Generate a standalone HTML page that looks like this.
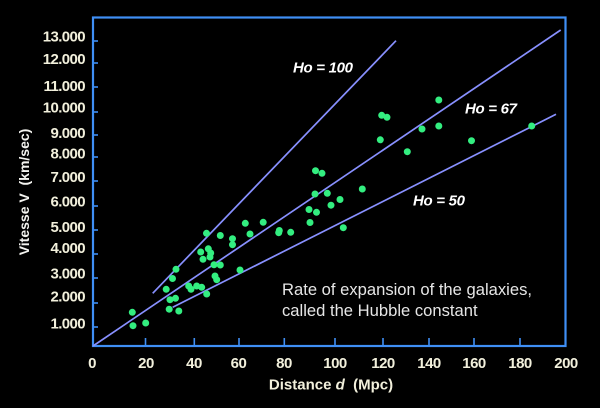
<!DOCTYPE html>
<html>
<head>
<meta charset="utf-8">
<style>
  html,body{margin:0;padding:0;background:#000;}
  svg{display:block;}
  text{font-family:"Liberation Sans",sans-serif;}
</style>
</head>
<body>
<svg width="600" height="408" viewBox="0 0 600 408" xmlns="http://www.w3.org/2000/svg">
  <rect x="0" y="0" width="600" height="408" fill="#000"/>

  <rect x="93" y="17.5" width="472.5" height="328.5" fill="none" stroke="#3f8ff5" stroke-width="2.2"/>

  <g stroke="#3f8ff5" stroke-width="1.6">
    <line x1="93" y1="327" x2="98" y2="327"/>
    <line x1="93" y1="303" x2="98" y2="303"/>
    <line x1="93" y1="278" x2="98" y2="278"/>
    <line x1="93" y1="254" x2="98" y2="254"/>
    <line x1="93" y1="230" x2="98" y2="230"/>
    <line x1="93" y1="206" x2="98" y2="206"/>
    <line x1="93" y1="181" x2="98" y2="181"/>
    <line x1="93" y1="157" x2="98" y2="157"/>
    <line x1="93" y1="135" x2="98" y2="135"/>
    <line x1="93" y1="112" x2="98" y2="112"/>
    <line x1="93" y1="87" x2="98" y2="87"/>
    <line x1="93" y1="63" x2="98" y2="63"/>
    <line x1="93" y1="41" x2="98" y2="41"/>
  </g>
  <g stroke="#3f8ff5" stroke-width="1.6">
    <line x1="145.5" y1="346" x2="145.5" y2="338"/>
    <line x1="194.3" y1="346" x2="194.3" y2="338"/>
    <line x1="239" y1="346" x2="239" y2="338"/>
    <line x1="284.3" y1="346" x2="284.3" y2="338"/>
    <line x1="335" y1="346" x2="335" y2="338"/>
    <line x1="383" y1="346" x2="383" y2="338"/>
    <line x1="429" y1="346" x2="429" y2="338"/>
    <line x1="474" y1="346" x2="474" y2="338"/>
    <line x1="520" y1="346" x2="520" y2="338"/>
  </g>

  <g fill="#f2f0dc" font-size="15" font-weight="bold" text-anchor="end" letter-spacing="-0.6">
    <text x="85" y="41.5">13.000</text>
    <text x="85" y="64">12.000</text>
    <text x="85" y="91">11.000</text>
    <text x="85" y="112.5">10.000</text>
    <text x="85" y="138">9.000</text>
    <text x="85" y="158.5">8.000</text>
    <text x="85" y="182">7.000</text>
    <text x="85" y="206.5">6.000</text>
    <text x="85" y="232">5.000</text>
    <text x="85" y="253">4.000</text>
    <text x="85" y="278.5">3.000</text>
    <text x="85" y="301.5">2.000</text>
    <text x="85" y="328.5">1.000</text>
  </g>

  <g fill="#f2f0dc" font-size="15" font-weight="bold" text-anchor="middle" letter-spacing="-0.5">
    <text x="92" y="368">0</text>
    <text x="146" y="368">20</text>
    <text x="194" y="368">40</text>
    <text x="238.5" y="368">60</text>
    <text x="284" y="368">80</text>
    <text x="335" y="368">100</text>
    <text x="383" y="368">120</text>
    <text x="429" y="368">140</text>
    <text x="474" y="368">160</text>
    <text x="520" y="368">180</text>
    <text x="566" y="368">200</text>
  </g>

  <text x="331" y="389.5" fill="#f2f0dc" font-size="15" font-weight="bold" text-anchor="middle" xml:space="preserve">Distance <tspan font-style="italic">d</tspan>  (Mpc)</text>
  <text transform="translate(29,192) rotate(-90)" fill="#f4f4f0" font-size="14" font-weight="bold" text-anchor="middle" xml:space="preserve">Vitesse V  (km/sec)</text>

  <g stroke="#8890ff" stroke-width="1.7" fill="none">
    <line x1="152.7" y1="293.3" x2="396" y2="40.7"/>
    <line x1="93" y1="346" x2="560.7" y2="30"/>
    <line x1="172.7" y1="307.3" x2="556" y2="114.3"/>
  </g>

  <g fill="#ffffff" font-size="15" font-style="italic" font-weight="bold" letter-spacing="-0.3">
    <text x="293" y="72.5">Ho = 100</text>
    <text x="465" y="113.5">Ho = 67</text>
    <text x="413" y="205.5">Ho = 50</text>
  </g>

  <g fill="#e6e6e6" font-size="16.6">
    <text x="282" y="295">Rate of expansion of the galaxies,</text>
    <text x="282" y="316">called the Hubble constant</text>
  </g>

  <g fill="#33ee80">
    <circle cx="132.3" cy="312.3" r="3.5"/>
    <circle cx="133" cy="325.7" r="3.5"/>
    <circle cx="145.7" cy="323" r="3.5"/>
    <circle cx="176" cy="269.3" r="3.5"/>
    <circle cx="172.5" cy="278.5" r="3.5"/>
    <circle cx="166.2" cy="289.3" r="3.5"/>
    <circle cx="170" cy="299.7" r="3.5"/>
    <circle cx="175.5" cy="298.3" r="3.5"/>
    <circle cx="169.2" cy="309.2" r="3.5"/>
    <circle cx="178.8" cy="311" r="3.5"/>
    <circle cx="206.5" cy="233.3" r="3.5"/>
    <circle cx="220.3" cy="235.5" r="3.5"/>
    <circle cx="245.3" cy="223.3" r="3.5"/>
    <circle cx="263.2" cy="222.3" r="3.5"/>
    <circle cx="250" cy="234" r="3.5"/>
    <circle cx="232.5" cy="238.7" r="3.5"/>
    <circle cx="232.5" cy="244.7" r="3.5"/>
    <circle cx="200.7" cy="252" r="3.5"/>
    <circle cx="208.3" cy="248.8" r="3.5"/>
    <circle cx="210.7" cy="253" r="3.5"/>
    <circle cx="210" cy="257" r="3.5"/>
    <circle cx="203" cy="259.3" r="3.5"/>
    <circle cx="214" cy="264.8" r="3.5"/>
    <circle cx="220.3" cy="265" r="3.5"/>
    <circle cx="240" cy="270" r="3.5"/>
    <circle cx="215" cy="276" r="3.5"/>
    <circle cx="216.7" cy="279.7" r="3.5"/>
    <circle cx="188.7" cy="286" r="3.5"/>
    <circle cx="191" cy="289.3" r="3.5"/>
    <circle cx="196.7" cy="286" r="3.5"/>
    <circle cx="201.7" cy="287.3" r="3.5"/>
    <circle cx="206.7" cy="294" r="3.5"/>
    <circle cx="278.7" cy="232.7" r="3.5"/>
    <circle cx="279.3" cy="230.5" r="3.5"/>
    <circle cx="290.7" cy="232.3" r="3.5"/>
    <circle cx="309" cy="209.5" r="3.5"/>
    <circle cx="316.5" cy="212.3" r="3.5"/>
    <circle cx="310" cy="222.5" r="3.5"/>
    <circle cx="331" cy="205.2" r="3.5"/>
    <circle cx="343.3" cy="227.7" r="3.5"/>
    <circle cx="340" cy="199.5" r="3.5"/>
    <circle cx="315.5" cy="170.7" r="3.5"/>
    <circle cx="322" cy="173.3" r="3.5"/>
    <circle cx="362.3" cy="189" r="3.5"/>
    <circle cx="315" cy="194" r="3.5"/>
    <circle cx="327.3" cy="193.3" r="3.5"/>
    <circle cx="380.3" cy="139.8" r="3.5"/>
    <circle cx="381.7" cy="115.3" r="3.5"/>
    <circle cx="387" cy="117.3" r="3.5"/>
    <circle cx="407.3" cy="151.7" r="3.5"/>
    <circle cx="422" cy="129" r="3.5"/>
    <circle cx="438.8" cy="126" r="3.5"/>
    <circle cx="438.8" cy="100" r="3.5"/>
    <circle cx="471.5" cy="140.7" r="3.5"/>
    <circle cx="531.7" cy="126" r="3.5"/>
  </g>
</svg>
</body>
</html>
